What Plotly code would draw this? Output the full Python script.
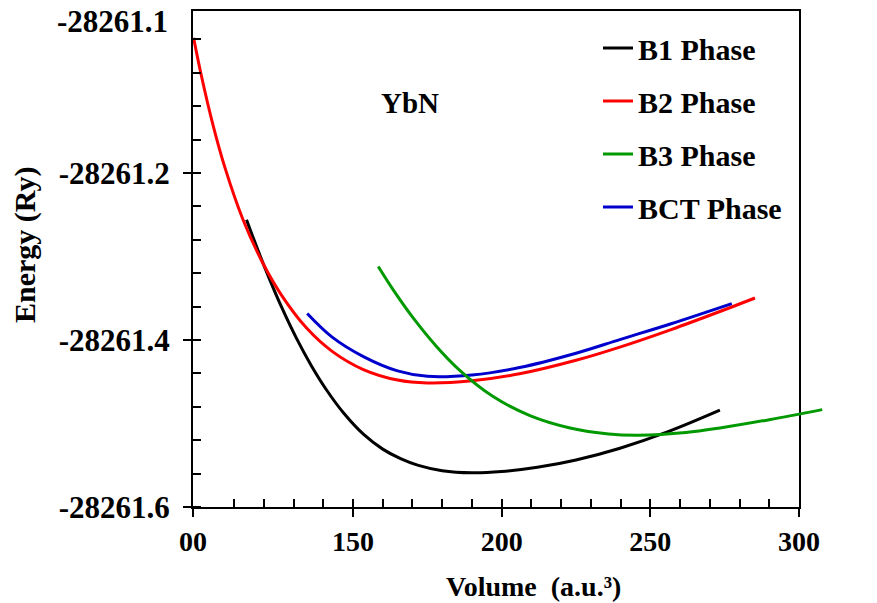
import plotly.graph_objects as go

# ---------------- data ----------------
b1_v = [114.2, 118.0, 122.0, 126.0, 131.1, 136.0, 141.0, 147.0, 153.5, 160.0,
        166.0, 172.0, 180.0, 190.0, 200.0, 212.0, 225.0, 239.8, 256.0, 273.4]
b1_e = [-28261.2560, -28261.2921, -28261.3277, -28261.3607, -28261.3987, -28261.4308,
        -28261.4593, -28261.4881, -28261.5128, -28261.5307, -28261.5421, -28261.5502,
        -28261.5566, -28261.5591, -28261.5576, -28261.5525, -28261.5437, -28261.5296,
        -28261.5098, -28261.4841]

b2_v = [96.4, 99.0, 103.0, 107.0, 113.0, 119.8, 126.0, 134.4, 143.0, 153.5,
        165.0, 175.0, 190.0, 206.0, 225.0, 240.0, 257.0, 273.4, 285.2]
b2_e = [-28261.0381, -28261.0832, -28261.1435, -28261.1942, -28261.2557, -28261.3087,
        -28261.3465, -28261.3857, -28261.4136, -28261.4354, -28261.4480, -28261.4515,
        -28261.4489, -28261.4405, -28261.4243, -28261.4082, -28261.3875, -28261.3659,
        -28261.3497]

b3_v = [158.5, 164.0, 170.3, 178.0, 186.0, 197.0, 209.5, 223.0, 236.0, 246.0,
        262.0, 273.4, 290.0, 307.8]
b3_e = [-28261.3119, -28261.3424, -28261.3739, -28261.4074, -28261.4366, -28261.4674,
        -28261.4905, -28261.5053, -28261.5125, -28261.5140, -28261.5108, -28261.5054,
        -28261.4954, -28261.4834]

bct_v = [134.6, 143.0, 153.5, 165.0, 175.0, 190.0, 206.0, 225.0, 240.0, 257.0, 277.4]
bct_e = [-28261.3683, -28261.3966, -28261.4199, -28261.4370, -28261.4435, -28261.4419,
         -28261.4330, -28261.4158, -28261.3992, -28261.3805, -28261.3564]

series_names = ["B1 Phase", "B2 Phase", "B3 Phase", "BCT Phase"]
series_colors = ["#000000", "#ff0000", "#009900", "#0000cc"]

x_tick_vals = [96.2, 150, 200, 250, 300]
x_tick_text = ["00", "150", "200", "250", "300"]
x_minor_vals = [110, 120, 130, 140, 150, 160, 170, 180, 190, 200, 210, 220, 230,
                240, 250, 260, 270, 280, 290]
y_tick_vals = [-28261.6, -28261.4, -28261.2]
y_tick_text = ["-28261.6", "-28261.4", "-28261.2"]
y_top_label = "-28261.1"
y_top_label_pos = -28261.019
x_range = [96.2, 300]
y_range = [-28261.6, -28261.006]

FONT = "Liberation Serif, Times New Roman, serif"

# geometry (pixels)
W, H = 877, 603
L, T, B = 193, 11, 96
plot_right = 799
paper_w = W - L                      # paper spans to the window's right edge
main_frac = (plot_right - L) / paper_w
# second (hidden) x axis with identical scale, so the B3 curve can run past the frame
x2_range = [x_range[0], x_range[0] + (x_range[1] - x_range[0]) / main_frac]


def px(xp):
    return (xp - L) / paper_w


def py(yp):
    return (H - B - yp) / (H - T - B)


fig = go.Figure()
data = [(b1_v, b1_e), (b2_v, b2_e), (b3_v, b3_e), (bct_v, bct_e)]
for i, ((v, e), name, col) in enumerate(zip(data, series_names, series_colors)):
    fig.add_trace(go.Scatter(
        x=v, y=e, mode="lines", name=name, legendgroup=f"g{i}",
        xaxis="x2" if name == "B3 Phase" else "x",
        line=dict(color=col, width=3, shape="spline", smoothing=1.0),
    ))

tick_font = dict(family=FONT, size=28, color="black", weight="bold")
axis_common = dict(
    showline=True, linecolor="black", linewidth=2, mirror=True,
    showgrid=False, zeroline=False,
    ticks="outside", ticklen=8, tickwidth=2, tickcolor="black",
)

fig.update_layout(
    xaxis=dict(
        domain=[0, main_frac], range=x_range, tickmode="array",
        tickvals=x_tick_vals, ticktext=x_tick_text, ticklabelstandoff=0,
        tickfont=tick_font,
        minor=dict(tickmode="array", tickvals=x_minor_vals, ticks="inside",
                   ticklen=8, tickwidth=2, tickcolor="black", showgrid=False),
        **axis_common,
    ),
    xaxis2=dict(domain=[0, 1], range=x2_range, anchor="y", visible=False,
                showgrid=False, zeroline=False),
    yaxis=dict(
        range=y_range, tickmode="array", tickvals=y_tick_vals, ticktext=y_tick_text,
        ticklabelstandoff=7, anchor="x",
        tickfont=dict(family=FONT, size=31, color="black", weight="bold"),
        minor=dict(tickmode="linear", tick0=-28261.6, dtick=0.04, ticks="inside",
                   ticklen=8, tickwidth=2, tickcolor="black", showgrid=False),
        **axis_common,
    ),
)

fig.add_annotation(xref="paper", yref="y", x=px(170), y=y_top_label_pos,
                   text=y_top_label, showarrow=False, xanchor="right", yanchor="middle",
                   font=dict(family=FONT, size=31, color="black", weight="bold"))
fig.add_annotation(xref="paper", yref="paper", x=px(533), y=py(586),
                   text="Volume\u00a0\u00a0(a.u.³)", showarrow=False,
                   xanchor="center", yanchor="middle",
                   font=dict(family=FONT, size=28, color="black", weight="bold"))
fig.add_annotation(xref="paper", yref="paper", x=px(25), y=py(245),
                   text="Energy (Ry)", showarrow=False, textangle=-90,
                   xanchor="center", yanchor="middle",
                   font=dict(family=FONT, size=30, color="black", weight="bold"))
fig.add_annotation(xref="paper", yref="paper", x=px(410), y=py(103),
                   text="YbN", showarrow=False, xanchor="center", yanchor="middle",
                   font=dict(family=FONT, size=29, color="black", weight="bold"))

fig.update_layout(
    width=W, height=H,
    margin=dict(l=L, r=0, t=T, b=B, autoexpand=False),
    paper_bgcolor="white", plot_bgcolor="rgba(0,0,0,0)",
    showlegend=True,
    legend=dict(x=px(598), y=py(22), xanchor="left", yanchor="top",
                bgcolor="rgba(0,0,0,0)", borderwidth=0,
                tracegroupgap=11,
                font=dict(family=FONT, size=30, color="black", weight="bold")),
)

fig.write_html("out.html")
